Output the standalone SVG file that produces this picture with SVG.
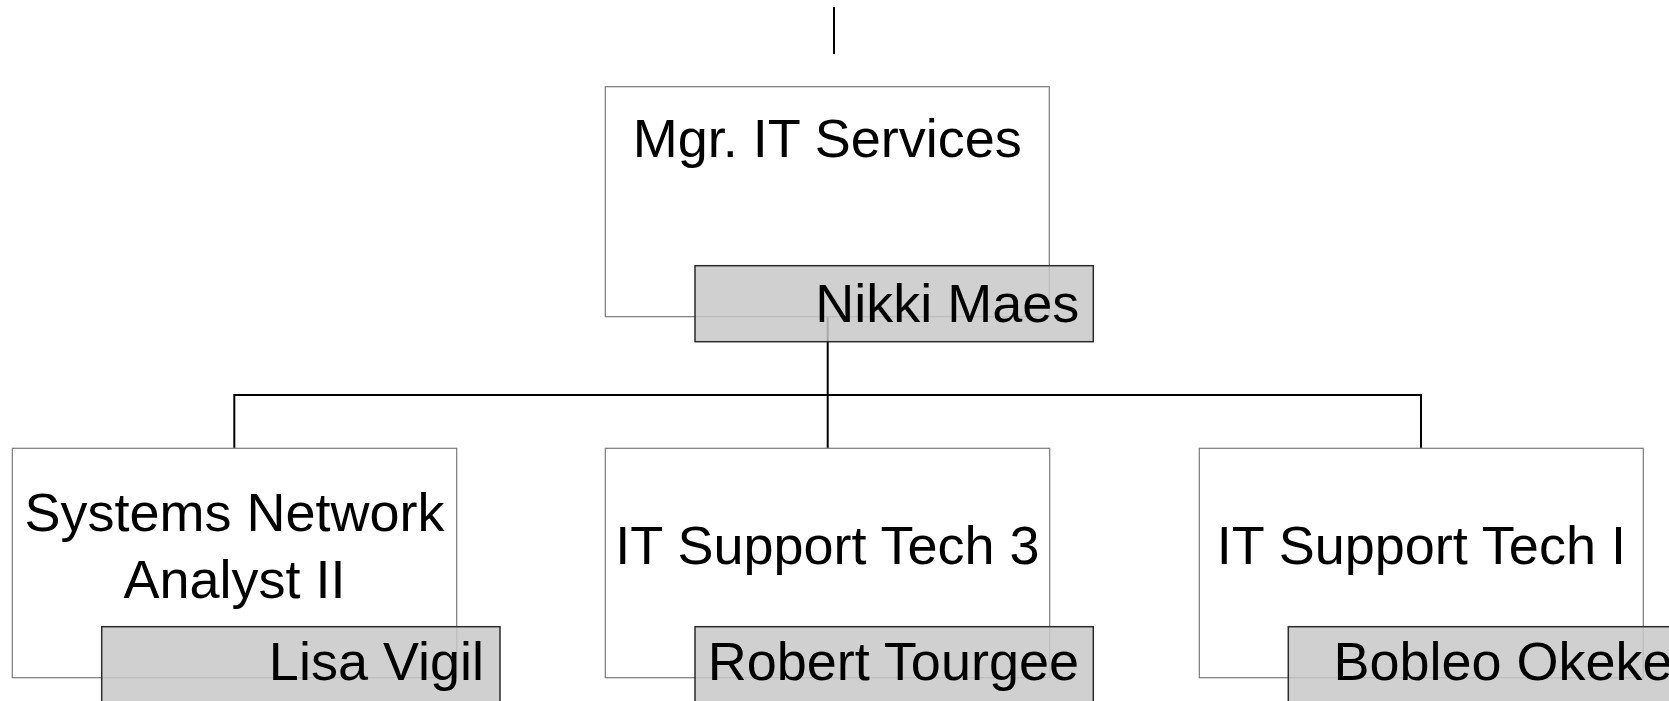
<svg xmlns="http://www.w3.org/2000/svg" width="1669" height="701" viewBox="0 0 1669 701">
<style>
.box{fill:#ffffff;stroke:#7a7a7a;stroke-width:1.2}
.name{fill:#c8c8c8;fill-opacity:0.85;stroke:#2b2b2b;stroke-width:1.5}
.t{font-family:"Liberation Sans",Arial,sans-serif;font-size:54px;fill:#000}
.c{text-anchor:middle}
.r{text-anchor:end}
.conn{fill:none;stroke:#000;stroke-width:2}
</style>
<rect width="1669" height="701" fill="#fff"/>
<g id="connectors">
<line class="conn" x1="834" y1="7" x2="834" y2="54" stroke-width="1.5"/>
<line class="conn" x1="827.7" y1="317" x2="827.7" y2="448"/>
<polyline class="conn" points="234.3,448 234.3,395 1421,395 1421,448"/>
</g>
<g id="node-mgr">
<rect class="box" x="605.3" y="86.7" width="444" height="230"/>
<text class="t c" x="827.3" y="156.7">Mgr. IT Services</text>
<rect class="name" x="695" y="265.7" width="398.3" height="76"/>
<text class="t r" x="1079.3" y="321.7">Nikki Maes</text>
</g>
<g id="node-sna">
<rect class="box" x="12.3" y="448.3" width="444.4" height="229.4"/>
<text class="t c" x="234.5" y="530.7">Systems Network</text>
<text class="t c" x="234.5" y="598.3">Analyst II</text>
<rect class="name" x="101.7" y="626.7" width="398.3" height="90"/>
<text class="t r" x="484" y="680">Lisa Vigil</text>
</g>
<g id="node-it3">
<rect class="box" x="605.3" y="448.3" width="444.4" height="229.4"/>
<text class="t c" x="827.5" y="564.3">IT Support Tech 3</text>
<rect class="name" x="695" y="626.7" width="398.3" height="90"/>
<text class="t r" x="1079" y="680">Robert Tourgee</text>
</g>
<g id="node-it1">
<rect class="box" x="1199.3" y="448.3" width="444" height="229.4"/>
<text class="t c" x="1421.3" y="564.3">IT Support Tech I</text>
<rect class="name" x="1288.3" y="626.7" width="398.3" height="90"/>
<text class="t r" x="1672.6" y="680">Bobleo Okeke</text>
</g>
</svg>
